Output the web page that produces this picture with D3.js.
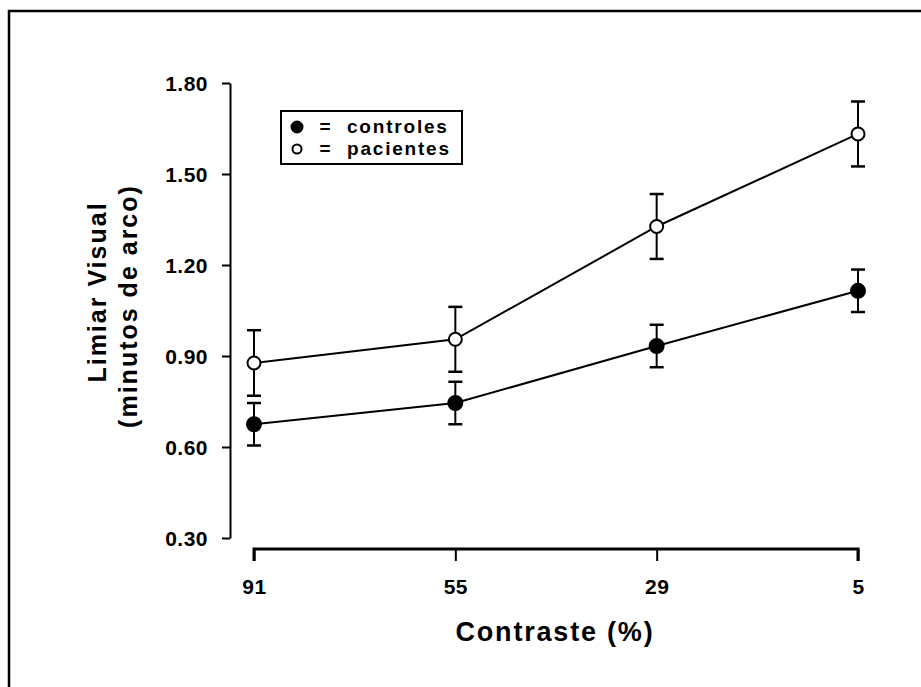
<!DOCTYPE html>
<html>
<head>
<meta charset="utf-8">
<script src="https://cdn.jsdelivr.net/npm/d3@7"></script>
<style>
  body { margin: 0; background: #fff; }
  svg { display: block; }
  text { font-family: "Liberation Sans", Arial, sans-serif; fill: #000; }
</style>
</head>
<body>
<div id="chart"></div>
<script>
const categories = ['91', '55', '29', '5']
const controles = [0.675, 0.745, 0.933, 1.115]
const controlesErr = [0.07, 0.07, 0.07, 0.07]
const pacientes = [0.877, 0.955, 1.327, 1.632]
const pacientesErr = [0.108, 0.107, 0.107, 0.107]
const yTicks = [0.30, 0.60, 0.90, 1.20, 1.50, 1.80]

const width = 921
const height = 687

const svg = d3.select('#chart').append('svg')
    .attr('width', width)
    .attr('height', height)

// moldura
svg.append('path')
    .attr('d', `M9,${height} V11 H${width}`)
    .attr('fill', 'none')
    .attr('stroke', '#000')
    .attr('stroke-width', 2.5)

const x = d3.scalePoint().domain(categories).range([254, 858])
const y = d3.scaleLinear().domain([0.30, 1.80]).range([538, 83])

const yAxis = svg.append('g')
    .attr('transform', 'translate(230,0)')
    .call(d3.axisLeft(y).tickValues(yTicks).tickFormat(d3.format('.2f')).tickSize(8).tickSizeOuter(0).tickPadding(14))
yAxis.selectAll('path, line').attr('stroke', '#000').attr('stroke-width', 2)
yAxis.selectAll('text')
    .style('font-size', '21px').style('font-weight', 'bold').style('letter-spacing', '0.5px')
    .attr('dy', '0.36em')

const xAxis = svg.append('g')
    .attr('transform', 'translate(0,549)')
    .call(d3.axisBottom(x).tickSize(12).tickSizeOuter(12).tickPadding(18))
xAxis.selectAll('path, line').attr('stroke', '#000').attr('stroke-width', 2)
xAxis.select('.domain').attr('stroke-width', 3).attr('d', `M254,12V0H858V12`)
xAxis.selectAll('text')
    .style('font-size', '21px').style('font-weight', 'bold').style('letter-spacing', '0.5px')

svg.append('text')
    .attr('x', 555).attr('y', 641)
    .attr('text-anchor', 'middle')
    .style('font-size', '27px').style('font-weight', 'bold').style('letter-spacing', '1.8px')
    .text('Contraste (%)')

const yTitle = svg.append('g').attr('transform', 'rotate(-90)')
yTitle.append('text')
    .attr('x', -292).attr('y', 106)
    .attr('text-anchor', 'middle')
    .style('font-size', '25px').style('font-weight', 'bold').style('letter-spacing', '2px')
    .text('Limiar Visual')
yTitle.append('text')
    .attr('x', -306).attr('y', 137)
    .attr('text-anchor', 'middle')
    .style('font-size', '25px').style('font-weight', 'bold').style('letter-spacing', '2px')
    .text('(minutos de arco)')

const series = [
    { name: 'controles', values: controles, errs: controlesErr, fill: '#000' },
    { name: 'pacientes', values: pacientes, errs: pacientesErr, fill: '#fff' }
]

const line = d3.line().x((d, i) => x(categories[i])).y(d => y(d))

series.forEach(s => {
    const g = svg.append('g')
    const pts = s.values.map((v, i) => ({ cat: categories[i], v, e: s.errs[i] }))

    g.selectAll('line.err')
        .data(pts)
        .join('line')
        .attr('class', 'err')
        .attr('x1', d => x(d.cat)).attr('x2', d => x(d.cat))
        .attr('y1', d => y(d.v + d.e)).attr('y2', d => y(d.v - d.e))
        .attr('stroke', '#000').attr('stroke-width', 2)

    g.selectAll('line.cap')
        .data(pts.flatMap(d => [d.v + d.e, d.v - d.e].map(c => ({ cat: d.cat, c }))))
        .join('line')
        .attr('class', 'cap')
        .attr('x1', d => x(d.cat) - 7).attr('x2', d => x(d.cat) + 7)
        .attr('y1', d => y(d.c)).attr('y2', d => y(d.c))
        .attr('stroke', '#000').attr('stroke-width', 2.5)

    g.append('path')
        .datum(s.values)
        .attr('d', line)
        .attr('fill', 'none')
        .attr('stroke', '#000')
        .attr('stroke-width', 2)

    g.selectAll('circle')
        .data(pts)
        .join('circle')
        .attr('cx', d => x(d.cat))
        .attr('cy', d => y(d.v))
        .attr('r', s.fill === '#000' ? 7 : 6.5)
        .attr('fill', s.fill)
        .attr('stroke', '#000')
        .attr('stroke-width', 2)
})

// legenda
const legend = svg.append('g')
legend.append('rect')
    .attr('x', 281).attr('y', 111).attr('width', 181).attr('height', 53)
    .attr('fill', '#fff').attr('stroke', '#000').attr('stroke-width', 2)

series.forEach((s, i) => {
    const cy = 127 + i * 22
    legend.append('circle')
        .attr('cx', 297).attr('cy', cy)
        .attr('r', s.fill === '#000' ? 5.5 : 4.5)
        .attr('fill', s.fill).attr('stroke', '#000').attr('stroke-width', 2)
    legend.append('text')
        .attr('x', 325).attr('y', cy + 6)
        .attr('text-anchor', 'middle')
        .style('font-size', '19px').style('font-weight', 'bold')
        .text('=')
    legend.append('text')
        .attr('x', 347).attr('y', cy + 6)
        .style('font-size', '19px').style('font-weight', 'bold').style('letter-spacing', '1.8px')
        .text(s.name)
})
</script>
</body>
</html>
